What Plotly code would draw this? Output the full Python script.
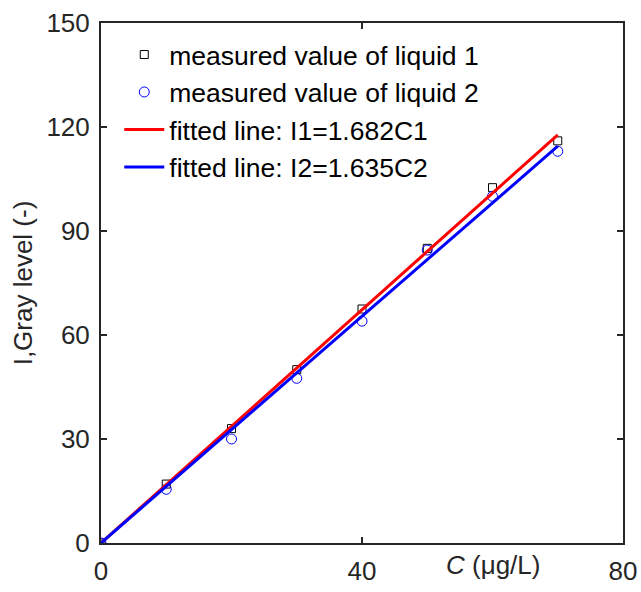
import plotly.graph_objects as go

x_meas = [0, 10, 20, 30, 40, 50, 60, 70]
liquid1 = [0, 17, 33, 50, 67.5, 85, 102.5, 116]
liquid2 = [0, 15.5, 30, 47.5, 64, 84.5, 100, 113]
fit_x = [0, 70]
k1 = 1.682
k2 = 1.635
fit1 = [k1 * v for v in fit_x]
fit2 = [k2 * v for v in fit_x]
x_ticks = [0, 40, 80]
y_ticks = [0, 30, 60, 90, 120, 150]

FONT = "Liberation Sans, Arial, sans-serif"
FS = 26

fig = go.Figure()
fig.add_trace(go.Scatter(x=x_meas, y=liquid1, mode="markers", name="measured value of liquid 1",
                         marker=dict(symbol="square-open", size=8, color="black", line=dict(width=1))))
fig.add_trace(go.Scatter(x=x_meas, y=liquid2, mode="markers", name="measured value of liquid 2",
                         marker=dict(symbol="circle-open", size=10, color="blue", line=dict(width=1))))
fig.add_trace(go.Scatter(x=fit_x, y=fit1, mode="lines", name="fitted line: I1=1.682C1",
                         line=dict(color="red", width=3)))
fig.add_trace(go.Scatter(x=fit_x, y=fit2, mode="lines", name="fitted line: I2=1.635C2",
                         line=dict(color="blue", width=3)))

axis_common = dict(showgrid=False, zeroline=False, showline=True, linecolor="#262626", linewidth=2,
                   mirror="allticks", ticks="inside", ticklen=6, tickwidth=2, tickcolor="#262626",
                   tickfont=dict(family=FONT, size=FS, color="#262626"), automargin=False)

fig.update_layout(
    width=641, height=592,
    margin=dict(l=101, r=18, t=23, b=49),
    plot_bgcolor="white", paper_bgcolor="white",
    font=dict(family=FONT, size=FS, color="black"),
    xaxis=dict(range=[0, 80], tickvals=x_ticks, ticklabelstandoff=4, **axis_common),
    yaxis=dict(range=[0, 150], tickvals=y_ticks, ticklabelstandoff=4,
               title=dict(text="I,Gray level (-)", font=dict(family=FONT, size=FS, color="#262626"), standoff=6),
               **axis_common),
    legend=dict(x=0.035, y=0.985, xanchor="left", yanchor="top", bgcolor="rgba(0,0,0,0)",
                font=dict(family=FONT, size=26.5, color="black"), tracegroupgap=0, itemwidth=40),
    showlegend=True,
)
fig.add_annotation(x=60, y=0, xref="x", yref="paper", yanchor="top", yshift=-5, showarrow=False,
                   text="<i>C</i> (μg/L)", font=dict(family=FONT, size=FS, color="#262626"))

fig.write_html("out.html")
